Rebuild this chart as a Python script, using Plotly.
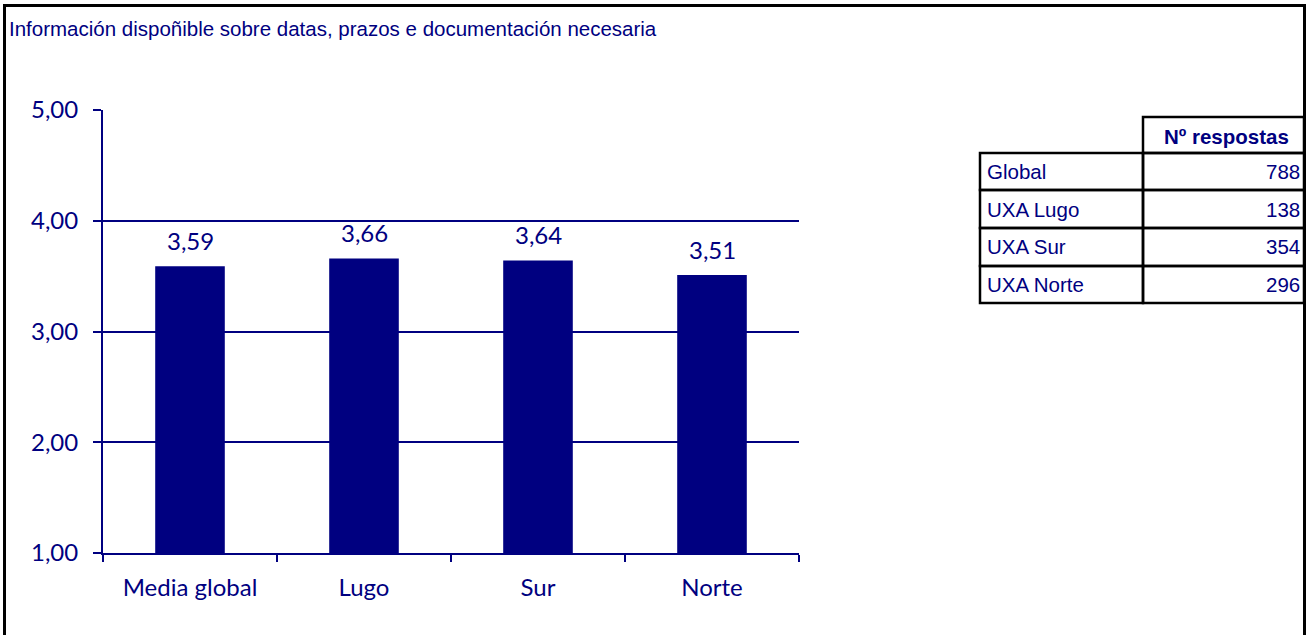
import plotly.graph_objects as go

# ---- data ----
categories = ["Media global", "Lugo", "Sur", "Norte"]
values = [3.59, 3.66, 3.64, 3.51]
y_ticks = [1, 2, 3, 4, 5]
y_tick_labels = ["1,00", "2,00", "3,00", "4,00", "5,00"]
table_header = "Nº respostas"
table_rows = ["Global", "UXA Lugo", "UXA Sur", "UXA Norte"]
table_counts = [788, 138, 354, 296]
title_text = "Información dispoñible sobre datas, prazos e documentación necesaria"

NAVY = "#000080"
W, H = 1307, 635
L, R, T, B = 103, 799, 110, 553  # plot area in pixels


def px(x):
    return (x - L) / (R - L)


def py(y):
    return (B - y) / (B - T)


def fmt(v):
    return f"{v:.2f}".replace(".", ",")


fig = go.Figure()
fig.add_trace(go.Bar(
    x=categories, y=values, marker=dict(color=NAVY, line=dict(width=0)),
    width=0.4, hoverinfo="skip", showlegend=False,
))

annotations = []
for c, v in zip(categories, values):
    annotations.append(dict(
        x=c, y=v, xref="x", yref="y", text=fmt(v), showarrow=False,
        yanchor="middle", yshift=26,
        font=dict(family="Lato, Noto Sans, sans-serif", size=24, color=NAVY),
    ))

# title
annotations.append(dict(
    x=px(7), y=py(28), xref="paper", yref="paper", text=title_text,
    showarrow=False, xanchor="left", yanchor="middle",
    font=dict(family="Liberation Sans, Arial, sans-serif", size=20.5, color=NAVY),
))

shapes = []
# outer frame
shapes.append(dict(type="rect", xref="paper", yref="paper",
                   x0=px(4.5), x1=px(1304.5), y0=py(645), y1=py(5.5),
                   line=dict(color="black", width=3), fillcolor="rgba(0,0,0,0)"))

# table geometry
col_x = [980, 1143, 1304]
header_y = [117, 153]
row_y = [153, 190, 228, 266, 303]
lw = 2.5
tfont = dict(family="Liberation Sans, Arial, sans-serif", size=20.5, color=NAVY)

# header cell (only second column)
shapes.append(dict(type="rect", xref="paper", yref="paper",
                   x0=px(col_x[1]), x1=px(col_x[2]), y0=py(header_y[1]), y1=py(header_y[0]),
                   line=dict(color="black", width=lw)))
annotations.append(dict(
    x=px((col_x[1] + col_x[2]) / 2 + 3), y=py((header_y[0] + header_y[1]) / 2 + 1),
    xref="paper", yref="paper", text=f"<b>{table_header}</b>", showarrow=False,
    xanchor="center", yanchor="middle", font=tfont,
))
for i, (name, cnt) in enumerate(zip(table_rows, table_counts)):
    y0, y1 = row_y[i], row_y[i + 1]
    for c0, c1 in [(col_x[0], col_x[1]), (col_x[1], col_x[2])]:
        shapes.append(dict(type="rect", xref="paper", yref="paper",
                           x0=px(c0), x1=px(c1), y0=py(y1), y1=py(y0),
                           line=dict(color="black", width=lw)))
    annotations.append(dict(
        x=px(col_x[0] + 5), y=py((y0 + y1) / 2), xref="paper", yref="paper",
        text=name, showarrow=False, xanchor="left", yanchor="middle", font=tfont,
    ))
    annotations.append(dict(
        x=px(col_x[2] - 2), y=py((y0 + y1) / 2), xref="paper", yref="paper",
        text=str(cnt), showarrow=False, xanchor="right", yanchor="middle", font=tfont,
    ))

fig.update_layout(
    width=W, height=H,
    margin=dict(l=L, r=W - R, t=T, b=H - B, pad=0),
    paper_bgcolor="white", plot_bgcolor="white",
    separators=",.",
    bargap=0.6,
    shapes=shapes, annotations=annotations,
    xaxis=dict(
        showline=True, linecolor=NAVY, linewidth=2, mirror=False,
        ticks="outside", tickson="boundaries", ticklen=7, tickwidth=2, tickcolor=NAVY,
        tickfont=dict(family="Lato, Noto Sans, sans-serif", size=24, color=NAVY),
        ticklabelstandoff=12, showgrid=False, fixedrange=True,
    ),
    yaxis=dict(
        range=[1, 5], tickvals=y_ticks, ticktext=y_tick_labels,
        showline=True, linecolor=NAVY, linewidth=2,
        ticks="outside", ticklen=8, tickwidth=2, tickcolor=NAVY,
        showgrid=True, gridcolor=NAVY, gridwidth=1.5, zeroline=False,
        tickfont=dict(family="Lato, Noto Sans, sans-serif", size=24, color=NAVY),
        ticklabelstandoff=10, fixedrange=True,
    ),
)

fig.write_html(
    "out.html",
    config={"displayModeBar": False},
    post_script="document.body.style.margin='0';document.body.style.overflow='hidden';",
)
